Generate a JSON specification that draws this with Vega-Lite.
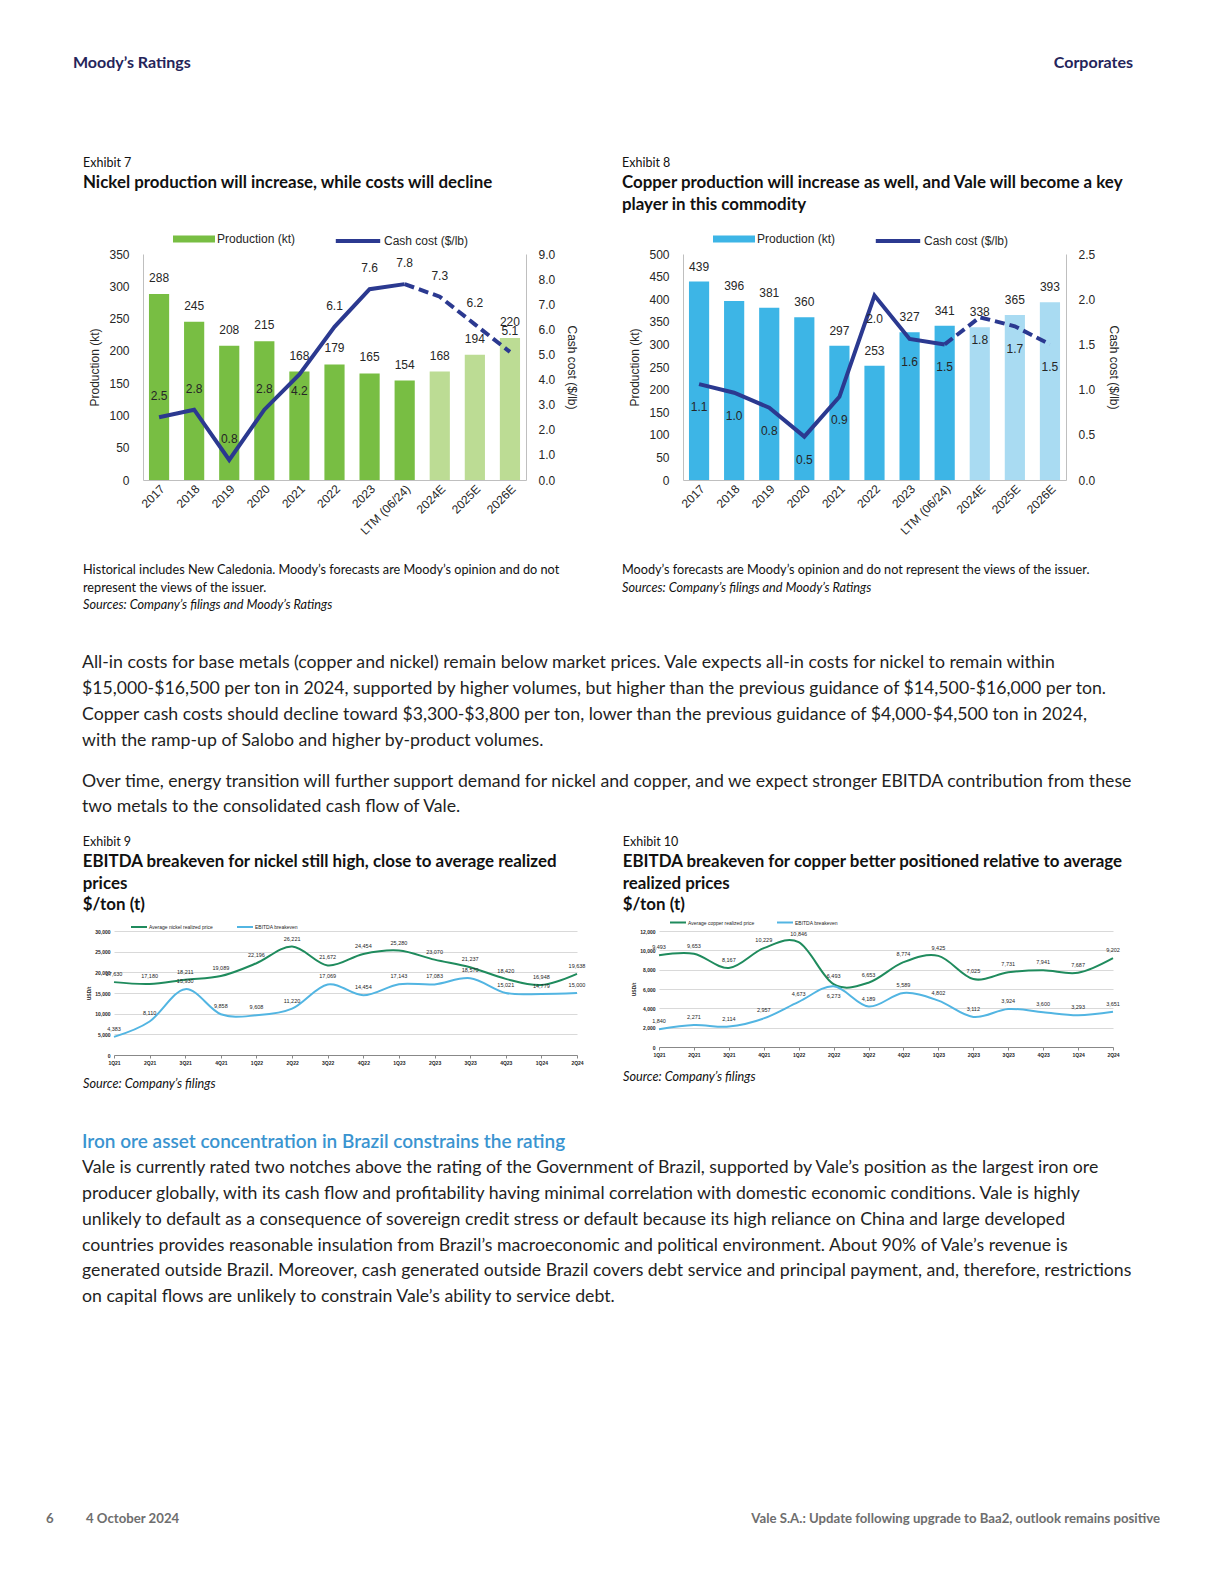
{
  "$schema": "https://vega.github.io/schema/vega-lite/v6.json",
  "background": "white",
  "padding": {"left": 0, "top": 55, "right": 0, "bottom": 0},
  "spacing": 0,
  "resolve": {"scale": {"color": "independent", "stroke": "independent"}, "legend": {"color": "independent", "stroke": "independent"}},
  "config": {
    "view": {"stroke": null},
    "axis": {"labelFont": "Liberation Sans", "titleFont": "Liberation Sans", "labelColor": "#262626", "titleColor": "#262626"},
    "legend": {"labelFont": "Liberation Sans", "labelColor": "#262626"},
    "text": {"font": "Liberation Sans", "color": "#262626"},
    "title": {"font": "Lato"}
  },
  "vconcat": [
    {
      "hconcat": [
        {"width": 600, "height": 85, "data": {"values": [{}]}, "mark": "text", "encoding": {},
         "title": {"text": "Moody’s Ratings", "anchor": "start", "frame": "group", "dx": 73, "offset": 0, "font": "Lato", "fontSize": 16, "fontWeight": "bold", "color": "#25245a"}},
        {"width": 533, "height": 85, "data": {"values": [{}]}, "mark": "text", "encoding": {},
         "title": {"text": "Corporates", "anchor": "end", "frame": "group", "offset": 0, "font": "Lato", "fontSize": 16, "fontWeight": "bold", "color": "#25245a"}}
      ],
      "spacing": 0
    },
    {
      "hconcat": [
        {"width": 39, "height": 1, "data": {"values": [{}]}, "mark": "text", "encoding": {}},
        {
          "vconcat": [
            {
              "width": 383, "height": 226,
              "title": {"text": "Exhibit 7", "subtitle": "Nickel production will increase, while costs will decline", "anchor": "start", "frame": "bounds", "dx": -6, "font": "Lato", "fontSize": 12.5, "fontWeight": "normal", "color": "#111111", "subtitleFont": "Lato", "subtitleFontSize": 16.9, "subtitleFontWeight": "bold", "subtitleColor": "#111111", "subtitlePadding": 6, "subtitleLineHeight": 22, "offset": 57},
              "data": {"values": [
                {"cat": "2017", "prod": 288, "cost": 2.5, "kind": "Production (kt)"},
                {"cat": "2018", "prod": 245, "cost": 2.8, "kind": "Production (kt)"},
                {"cat": "2019", "prod": 208, "cost": 0.8, "kind": "Production (kt)"},
                {"cat": "2020", "prod": 215, "cost": 2.8, "kind": "Production (kt)"},
                {"cat": "2021", "prod": 168, "cost": 4.2, "kind": "Production (kt)"},
                {"cat": "2022", "prod": 179, "cost": 6.1, "kind": "Production (kt)"},
                {"cat": "2023", "prod": 165, "cost": 7.6, "kind": "Production (kt)"},
                {"cat": "LTM (06/24)", "prod": 154, "cost": 7.8, "kind": "Production (kt)"},
                {"cat": "2024E", "prod": 168, "cost": 7.3, "kind": "Forecast"},
                {"cat": "2025E", "prod": 194, "cost": 6.2, "kind": "Forecast"},
                {"cat": "2026E", "prod": 220, "cost": 5.1, "kind": "Forecast"}
              ]},
              "encoding": {
                "x": {"field": "cat", "type": "nominal", "sort": null, "scale": {"paddingInner": 0.425, "paddingOuter": 0.17},
                      "axis": {"title": null, "labelAngle": -45, "labelFontSize": 12, "ticks": false, "domainColor": "#bfbfbf", "labelPadding": 3}}
              },
              "layer": [
                {
                  "encoding": {
                    "y": {"field": "prod", "type": "quantitative", "scale": {"domain": [0, 350]},
                          "axis": {"values": [0, 50, 100, 150, 200, 250, 300, 350], "title": "Production (kt)", "grid": false, "ticks": false, "labelPadding": 14, "domainColor": "#bfbfbf", "labelFontSize": 12, "titleFontSize": 12, "titleFontWeight": "normal", "titlePadding": 7}}
                  },
                  "layer": [
                    {"mark": {"type": "bar"},
                     "encoding": {
                       "color": {"field": "kind", "type": "nominal", "scale": {"domain": ["Production (kt)", "Forecast"], "range": ["#78be43", "#bcdc94"]},
                                 "legend": {"title": null, "orient": "none", "legendX": 45, "legendY": -21, "direction": "horizontal", "values": ["Production (kt)"], "symbolType": "M-3.5,-0.6H3.5V0.6H-3.5Z", "symbolSize": 144, "symbolStrokeWidth": 0, "labelFontSize": 12, "labelOffset": 17, "padding": 0}}
                     }},
                    {"mark": {"type": "text", "baseline": "middle", "dy": -16, "fontSize": 12},
                     "encoding": {"text": {"field": "prod", "type": "quantitative"}}}
                  ]
                },
                {
                  "encoding": {
                    "y": {"field": "cost", "type": "quantitative", "scale": {"domain": [0, 9]},
                          "axis": {"values": [0, 1, 2, 3, 4, 5, 6, 7, 8, 9], "format": ".1f", "title": "Cash cost ($/lb)", "grid": false, "ticks": false, "labelPadding": 12, "domainColor": "#bfbfbf", "labelFontSize": 12, "titleFontSize": 12, "titleFontWeight": "normal", "titlePadding": 10}}
                  },
                  "layer": [
                    {"transform": [{"filter": "datum.kind === 'Production (kt)'"}],
                     "mark": {"type": "line", "strokeWidth": 4},
                     "encoding": {
                       "stroke": {"datum": "Cash cost ($/lb)", "scale": {"range": ["#2b3990"]},
                                  "legend": {"title": null, "orient": "none", "legendX": 207, "legendY": -21, "direction": "horizontal", "symbolType": "M-3.7,0H3.7", "symbolSize": 144, "symbolStrokeWidth": 4, "labelFontSize": 12, "labelOffset": 18, "padding": 0}}
                     }},
                    {"transform": [{"filter": "datum.kind === 'Forecast' || datum.cat === 'LTM (06/24)'"}],
                     "mark": {"type": "line", "strokeWidth": 4, "strokeDash": [10, 5]},
                     "encoding": {"stroke": {"datum": "Cash cost ($/lb)"}}},
                    {"transform": [{"filter": "datum.cat !== '2021'"}],
                     "mark": {"type": "text", "baseline": "middle", "dy": -21, "fontSize": 12},
                     "encoding": {"text": {"field": "cost", "type": "quantitative", "format": ".1f"}}},
                    {"transform": [{"filter": "datum.cat === '2021'"}],
                     "mark": {"type": "text", "baseline": "middle", "dy": 16, "fontSize": 12},
                     "encoding": {"text": {"field": "cost", "type": "quantitative", "format": ".1f"}}}
                  ]
                }
              ],
              "resolve": {"scale": {"y": "independent"}}
            },
            {"width": 300, "height": 42, "data": {"values": [{}]}, "mark": "text", "encoding": {},
             "title": {"text": ["Historical includes New Caledonia. Moody’s forecasts are Moody’s opinion and do not", "represent the views of the issuer."], "subtitle": "Sources: Company’s filings and Moody’s Ratings", "anchor": "start", "frame": "group", "dx": -60, "offset": 0, "font": "Lato", "fontSize": 12.7, "fontWeight": "normal", "lineHeight": 17.5, "color": "#111111", "subtitleFont": "Lato", "subtitleFontSize": 12.7, "subtitleFontStyle": "italic", "subtitleColor": "#111111", "subtitlePadding": 5}}
          ],
          "spacing": 27
        },
        {
          "vconcat": [
            {
              "width": 383, "height": 226,
              "title": {"text": "Exhibit 8", "subtitle": ["Copper production will increase as well, and Vale will become a key", "player in this commodity"], "anchor": "start", "frame": "bounds", "dx": -7, "font": "Lato", "fontSize": 12.5, "fontWeight": "normal", "color": "#111111", "subtitleFont": "Lato", "subtitleFontSize": 16.9, "subtitleFontWeight": "bold", "subtitleColor": "#111111", "subtitlePadding": 6, "subtitleLineHeight": 22, "offset": 35},
              "data": {"values": [
                {"cat": "2017", "prod": 439, "cost": 1.06, "kind": "Production (kt)"},
                {"cat": "2018", "prod": 396, "cost": 0.965, "kind": "Production (kt)"},
                {"cat": "2019", "prod": 381, "cost": 0.8, "kind": "Production (kt)"},
                {"cat": "2020", "prod": 360, "cost": 0.48, "kind": "Production (kt)"},
                {"cat": "2021", "prod": 297, "cost": 0.92, "kind": "Production (kt)"},
                {"cat": "2022", "prod": 253, "cost": 2.04, "kind": "Production (kt)"},
                {"cat": "2023", "prod": 327, "cost": 1.56, "kind": "Production (kt)"},
                {"cat": "LTM (06/24)", "prod": 341, "cost": 1.5, "kind": "Production (kt)"},
                {"cat": "2024E", "prod": 338, "cost": 1.8, "kind": "Forecast"},
                {"cat": "2025E", "prod": 365, "cost": 1.7, "kind": "Forecast"},
                {"cat": "2026E", "prod": 393, "cost": 1.5, "kind": "Forecast"}
              ]},
              "encoding": {
                "x": {"field": "cat", "type": "nominal", "sort": null, "scale": {"paddingInner": 0.425, "paddingOuter": 0.17},
                      "axis": {"title": null, "labelAngle": -45, "labelFontSize": 12, "ticks": false, "domainColor": "#bfbfbf", "labelPadding": 3}}
              },
              "layer": [
                {
                  "encoding": {
                    "y": {"field": "prod", "type": "quantitative", "scale": {"domain": [0, 500]},
                          "axis": {"values": [0, 50, 100, 150, 200, 250, 300, 350, 400, 450, 500], "title": "Production (kt)", "grid": false, "ticks": false, "labelPadding": 14, "domainColor": "#bfbfbf", "labelFontSize": 12, "titleFontSize": 12, "titleFontWeight": "normal", "titlePadding": 7}}
                  },
                  "layer": [
                    {"mark": {"type": "bar"},
                     "encoding": {
                       "color": {"field": "kind", "type": "nominal", "scale": {"domain": ["Production (kt)", "Forecast"], "range": ["#3db5e6", "#a9dbf2"]},
                                 "legend": {"title": null, "orient": "none", "legendX": 45, "legendY": -21, "direction": "horizontal", "values": ["Production (kt)"], "symbolType": "M-3.5,-0.6H3.5V0.6H-3.5Z", "symbolSize": 144, "symbolStrokeWidth": 0, "labelFontSize": 12, "labelOffset": 17, "padding": 0}}
                     }},
                    {"mark": {"type": "text", "baseline": "middle", "dy": -15, "fontSize": 12},
                     "encoding": {"text": {"field": "prod", "type": "quantitative"}}}
                  ]
                },
                {
                  "encoding": {
                    "y": {"field": "cost", "type": "quantitative", "scale": {"domain": [0, 2.5]},
                          "axis": {"values": [0, 0.5, 1, 1.5, 2, 2.5], "format": ".1f", "title": "Cash cost ($/lb)", "grid": false, "ticks": false, "labelPadding": 12, "domainColor": "#bfbfbf", "labelFontSize": 12, "titleFontSize": 12, "titleFontWeight": "normal", "titlePadding": 12}}
                  },
                  "layer": [
                    {"transform": [{"filter": "datum.kind === 'Production (kt)'"}],
                     "mark": {"type": "line", "strokeWidth": 4},
                     "encoding": {
                       "stroke": {"datum": "Cash cost ($/lb)", "scale": {"range": ["#2b3990"]},
                                  "legend": {"title": null, "orient": "none", "legendX": 207, "legendY": -21, "direction": "horizontal", "symbolType": "M-3.7,0H3.7", "symbolSize": 144, "symbolStrokeWidth": 4, "labelFontSize": 12, "labelOffset": 18, "padding": 0}}
                     }},
                    {"transform": [{"filter": "datum.kind === 'Forecast' || datum.cat === 'LTM (06/24)'"}],
                     "mark": {"type": "line", "strokeWidth": 4, "strokeDash": [10, 5]},
                     "encoding": {"stroke": {"datum": "Cash cost ($/lb)"}}},
                    {"mark": {"type": "text", "baseline": "middle", "dy": 23, "fontSize": 12},
                     "encoding": {"text": {"field": "cost", "type": "quantitative", "format": ".1f"}}}
                  ]
                }
              ],
              "resolve": {"scale": {"y": "independent"}}
            },
            {"width": 300, "height": 1, "data": {"values": [{}]}, "mark": "text", "encoding": {},
             "title": {"text": "Moody’s forecasts are Moody’s opinion and do not represent the views of the issuer.", "subtitle": "Sources: Company’s filings and Moody’s Ratings", "anchor": "start", "frame": "group", "dx": -61, "offset": 0, "font": "Lato", "fontSize": 12.7, "fontWeight": "normal", "lineHeight": 17.5, "color": "#111111", "subtitleFont": "Lato", "subtitleFontSize": 12.7, "subtitleFontStyle": "italic", "subtitleColor": "#111111", "subtitlePadding": 5}}
          ],
          "spacing": 27
        }
      ],
      "spacing": 43,
      "resolve": {"scale": {"color": "independent", "stroke": "independent"}, "legend": {"color": "independent", "stroke": "independent"}}
    },
    {"width": 1130, "height": 19, "data": {"values": [{}]}, "mark": "text", "encoding": {},
     "title": {"text": ["All-in costs for base metals (copper and nickel) remain below market prices. Vale expects all-in costs for nickel to remain within", "$15,000-$16,500 per ton in 2024, supported by higher volumes, but higher than the previous guidance of $14,500-$16,000 per ton.", "Copper cash costs should decline toward $3,300-$3,800 per ton, lower than the previous guidance of $4,000-$4,500 ton in 2024,", "with the ramp-up of Salobo and higher by-product volumes."],
               "subtitle": ["Over time, energy transition will further support demand for nickel and copper, and we expect stronger EBITDA contribution from these", "two metals to the consolidated cash flow of Vale."],
               "anchor": "start", "frame": "group", "dx": 82, "offset": 0, "font": "Lato", "fontSize": 17.7, "fontWeight": "normal", "lineHeight": 26, "color": "#1f1f1f", "subtitleFont": "Lato", "subtitleFontSize": 17.7, "subtitleLineHeight": 25.5, "subtitleColor": "#1f1f1f", "subtitlePadding": 23}},
    {
      "hconcat": [
        {"width": 46, "height": 1, "data": {"values": [{}]}, "mark": "text", "encoding": {}},
        {
          "vconcat": [
            {
              "width": 463, "height": 124,
              "title": {"text": "Exhibit 9", "subtitle": ["EBITDA breakeven for nickel still high, close to average realized", "prices", "$/ton (t)"], "anchor": "start", "frame": "bounds", "dx": -4, "font": "Lato", "fontSize": 12.5, "fontWeight": "normal", "color": "#111111", "subtitleFont": "Lato", "subtitleFontSize": 16.9, "subtitleFontWeight": "bold", "subtitleColor": "#111111", "subtitlePadding": 6, "subtitleLineHeight": 21.5, "offset": 16},
              "data": {"values": [
                {"q": "1Q21", "series": "Average nickel realized price", "v": 17630},
                {"q": "2Q21", "series": "Average nickel realized price", "v": 17180},
                {"q": "3Q21", "series": "Average nickel realized price", "v": 18211},
                {"q": "4Q21", "series": "Average nickel realized price", "v": 19089},
                {"q": "1Q22", "series": "Average nickel realized price", "v": 22196},
                {"q": "2Q22", "series": "Average nickel realized price", "v": 26221},
                {"q": "3Q22", "series": "Average nickel realized price", "v": 21672},
                {"q": "4Q22", "series": "Average nickel realized price", "v": 24454},
                {"q": "1Q23", "series": "Average nickel realized price", "v": 25280},
                {"q": "2Q23", "series": "Average nickel realized price", "v": 23070},
                {"q": "3Q23", "series": "Average nickel realized price", "v": 21237},
                {"q": "4Q23", "series": "Average nickel realized price", "v": 18420},
                {"q": "1Q24", "series": "Average nickel realized price", "v": 16948},
                {"q": "2Q24", "series": "Average nickel realized price", "v": 19638},
                {"q": "1Q21", "series": "EBITDA breakeven", "v": 4383},
                {"q": "2Q21", "series": "EBITDA breakeven", "v": 8110},
                {"q": "3Q21", "series": "EBITDA breakeven", "v": 15930},
                {"q": "4Q21", "series": "EBITDA breakeven", "v": 9858},
                {"q": "1Q22", "series": "EBITDA breakeven", "v": 9608},
                {"q": "2Q22", "series": "EBITDA breakeven", "v": 11220},
                {"q": "3Q22", "series": "EBITDA breakeven", "v": 17069},
                {"q": "4Q22", "series": "EBITDA breakeven", "v": 14454},
                {"q": "1Q23", "series": "EBITDA breakeven", "v": 17143},
                {"q": "2Q23", "series": "EBITDA breakeven", "v": 17083},
                {"q": "3Q23", "series": "EBITDA breakeven", "v": 18570},
                {"q": "4Q23", "series": "EBITDA breakeven", "v": 15021},
                {"q": "1Q24", "series": "EBITDA breakeven", "v": 14779},
                {"q": "2Q24", "series": "EBITDA breakeven", "v": 15000}
              ]},
              "encoding": {
                "x": {"field": "q", "type": "ordinal", "sort": null, "scale": {"type": "point", "padding": 0},
                      "axis": {"title": null, "labelAngle": 0, "labelFontSize": 5, "labelFontWeight": "bold", "ticks": true, "tickSize": 3, "tickColor": "#888888", "domainColor": "#888888", "labelPadding": 2}},
                "y": {"field": "v", "type": "quantitative", "scale": {"domain": [0, 30000]},
                      "axis": {"values": [0, 5000, 10000, 15000, 20000, 25000, 30000], "format": ",d", "title": "USD/t", "titleFontSize": 5, "titleFontWeight": "bold", "titlePadding": 3, "labelFontSize": 5, "labelFontWeight": "bold", "labelPadding": 4, "ticks": false, "domain": false, "grid": true, "gridColor": "#d9d9d9"}}
              },
              "layer": [
                {"mark": {"type": "line", "interpolate": "cardinal", "strokeWidth": 2},
                 "encoding": {"color": {"field": "series", "type": "nominal", "scale": {"domain": ["Average nickel realized price", "EBITDA breakeven"], "range": ["#1f8b5d", "#52b5e2"]},
                                        "legend": {"title": null, "orient": "none", "legendX": 22, "legendY": -7, "direction": "horizontal", "symbolType": "M-4,0H4", "symbolSize": 16, "symbolStrokeWidth": 2, "labelFontSize": 5, "labelOffset": 7, "columnPadding": 20, "padding": 0}}}},
                {"mark": {"type": "text", "baseline": "middle", "dy": -8, "fontSize": 5.5},
                 "encoding": {"text": {"field": "v", "type": "quantitative", "format": ",d"}}}
              ]
            },
            {"width": 300, "height": 42, "data": {"values": [{}]}, "mark": "text", "encoding": {},
             "title": {"text": "Source: Company’s filings", "anchor": "start", "frame": "group", "dx": -31, "offset": 0, "font": "Lato", "fontSize": 12.7, "fontWeight": "normal", "fontStyle": "italic", "color": "#111111"}}
          ],
          "spacing": 13
        },
        {
          "vconcat": [
            {
              "width": 454, "height": 116,
              "title": {"text": "Exhibit 10", "subtitle": ["EBITDA breakeven for copper better positioned relative to average", "realized prices", "$/ton (t)"], "anchor": "start", "frame": "bounds", "dx": -9, "font": "Lato", "fontSize": 12.5, "fontWeight": "normal", "color": "#111111", "subtitleFont": "Lato", "subtitleFontSize": 16.9, "subtitleFontWeight": "bold", "subtitleColor": "#111111", "subtitlePadding": 6, "subtitleLineHeight": 21.5, "offset": 16},
              "data": {"values": [
                {"q": "1Q21", "series": "Average copper realized price", "v": 9493},
                {"q": "2Q21", "series": "Average copper realized price", "v": 9653},
                {"q": "3Q21", "series": "Average copper realized price", "v": 8167},
                {"q": "4Q21", "series": "Average copper realized price", "v": 10229},
                {"q": "1Q22", "series": "Average copper realized price", "v": 10846},
                {"q": "2Q22", "series": "Average copper realized price", "v": 6493},
                {"q": "3Q22", "series": "Average copper realized price", "v": 6653},
                {"q": "4Q22", "series": "Average copper realized price", "v": 8774},
                {"q": "1Q23", "series": "Average copper realized price", "v": 9425},
                {"q": "2Q23", "series": "Average copper realized price", "v": 7025},
                {"q": "3Q23", "series": "Average copper realized price", "v": 7731},
                {"q": "4Q23", "series": "Average copper realized price", "v": 7941},
                {"q": "1Q24", "series": "Average copper realized price", "v": 7687},
                {"q": "2Q24", "series": "Average copper realized price", "v": 9202},
                {"q": "1Q21", "series": "EBITDA breakeven", "v": 1840},
                {"q": "2Q21", "series": "EBITDA breakeven", "v": 2271},
                {"q": "3Q21", "series": "EBITDA breakeven", "v": 2114},
                {"q": "4Q21", "series": "EBITDA breakeven", "v": 2957},
                {"q": "1Q22", "series": "EBITDA breakeven", "v": 4673},
                {"q": "2Q22", "series": "EBITDA breakeven", "v": 6273},
                {"q": "3Q22", "series": "EBITDA breakeven", "v": 4189},
                {"q": "4Q22", "series": "EBITDA breakeven", "v": 5589},
                {"q": "1Q23", "series": "EBITDA breakeven", "v": 4802},
                {"q": "2Q23", "series": "EBITDA breakeven", "v": 3112},
                {"q": "3Q23", "series": "EBITDA breakeven", "v": 3924},
                {"q": "4Q23", "series": "EBITDA breakeven", "v": 3600},
                {"q": "1Q24", "series": "EBITDA breakeven", "v": 3293},
                {"q": "2Q24", "series": "EBITDA breakeven", "v": 3651}
              ]},
              "encoding": {
                "x": {"field": "q", "type": "ordinal", "sort": null, "scale": {"type": "point", "padding": 0},
                      "axis": {"title": null, "labelAngle": 0, "labelFontSize": 5, "labelFontWeight": "bold", "ticks": true, "tickSize": 3, "tickColor": "#888888", "domainColor": "#888888", "labelPadding": 2}},
                "y": {"field": "v", "type": "quantitative", "scale": {"domain": [0, 12000]},
                      "axis": {"values": [0, 2000, 4000, 6000, 8000, 10000, 12000], "format": ",d", "title": "USD/t", "titleFontSize": 5, "titleFontWeight": "bold", "titlePadding": 3, "labelFontSize": 5, "labelFontWeight": "bold", "labelPadding": 4, "ticks": false, "domain": false, "grid": true, "gridColor": "#d9d9d9"}}
              },
              "layer": [
                {"mark": {"type": "line", "interpolate": "cardinal", "strokeWidth": 2},
                 "encoding": {"color": {"field": "series", "type": "nominal", "scale": {"domain": ["Average copper realized price", "EBITDA breakeven"], "range": ["#1f8b5d", "#52b5e2"]},
                                        "legend": {"title": null, "orient": "none", "legendX": 16, "legendY": -11.5, "direction": "horizontal", "symbolType": "M-4,0H4", "symbolSize": 16, "symbolStrokeWidth": 2, "labelFontSize": 5, "labelOffset": 7, "columnPadding": 18, "padding": 0}}}},
                {"transform": [{"filter": "!(datum.q === '2Q22' && datum.series === 'EBITDA breakeven')"}],
                 "mark": {"type": "text", "baseline": "middle", "dy": -8, "fontSize": 5.5},
                 "encoding": {"text": {"field": "v", "type": "quantitative", "format": ",d"}}},
                {"transform": [{"filter": "datum.q === '2Q22' && datum.series === 'EBITDA breakeven'"}],
                 "mark": {"type": "text", "baseline": "middle", "dy": 10, "fontSize": 5.5},
                 "encoding": {"text": {"field": "v", "type": "quantitative", "format": ",d"}}}
              ]
            },
            {"width": 300, "height": 1, "data": {"values": [{}]}, "mark": "text", "encoding": {},
             "title": {"text": "Source: Company’s filings", "anchor": "start", "frame": "group", "dx": -36, "offset": 0, "font": "Lato", "fontSize": 12.7, "fontWeight": "normal", "fontStyle": "italic", "color": "#111111"}}
          ],
          "spacing": 13
        }
      ],
      "spacing": 36,
      "resolve": {"scale": {"color": "independent", "stroke": "independent"}, "legend": {"color": "independent", "stroke": "independent"}}
    },
    {"width": 1130, "height": 206, "data": {"values": [{}]}, "mark": "text", "encoding": {},
     "title": {"text": "Iron ore asset concentration in Brazil constrains the rating",
               "subtitle": ["Vale is currently rated two notches above the rating of the Government of Brazil, supported by Vale’s position as the largest iron ore", "producer globally, with its cash flow and profitability having minimal correlation with domestic economic conditions. Vale is highly", "unlikely to default as a consequence of sovereign credit stress or default because its high reliance on China and large developed", "countries provides reasonable insulation from Brazil’s macroeconomic and political environment. About 90% of Vale’s revenue is", "generated outside Brazil. Moreover, cash generated outside Brazil covers debt service and principal payment, and, therefore, restrictions", "on capital flows are unlikely to constrain Vale’s ability to service debt."],
               "anchor": "start", "frame": "group", "dx": 82, "offset": 0, "font": "Lato", "fontSize": 19, "fontWeight": 600, "color": "#3a94d0", "subtitleFont": "Lato", "subtitleFontSize": 17.7, "subtitleLineHeight": 25.8, "subtitleColor": "#1f1f1f", "subtitlePadding": 7}},
    {
      "hconcat": [
        {"width": 86, "height": 1, "data": {"values": [{}]}, "mark": "text", "encoding": {},
         "title": {"text": "6", "anchor": "start", "frame": "group", "dx": 46, "offset": 0, "font": "Lato", "fontSize": 13.2, "fontWeight": "bold", "color": "#6e6e6e"}},
        {"width": 500, "height": 1, "data": {"values": [{}]}, "mark": "text", "encoding": {},
         "title": {"text": "4 October 2024", "anchor": "start", "frame": "group", "offset": 0, "font": "Lato", "fontSize": 13.2, "fontWeight": "bold", "color": "#6e6e6e"}},
        {"width": 574, "height": 1, "data": {"values": [{}]}, "mark": "text", "encoding": {},
         "title": {"text": "Vale S.A.: Update following upgrade to Baa2, outlook remains positive", "anchor": "end", "frame": "group", "offset": 0, "font": "Lato", "fontSize": 13.2, "fontWeight": "bold", "color": "#6e6e6e"}}
      ],
      "spacing": 0
    }
  ]
}
